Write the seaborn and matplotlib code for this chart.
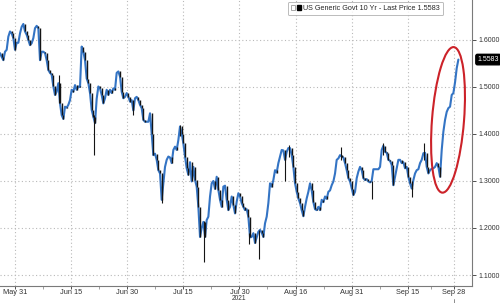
import numpy as np
import pandas as pd
import matplotlib
matplotlib.use("Agg")
import matplotlib.pyplot as plt
import seaborn as sns
from matplotlib.patches import Ellipse, Patch
from matplotlib.legend_handler import HandlerTuple

# ---------------- data ----------------
closes = [
    1.572, 1.564, 1.557, 1.575, 1.579, 1.607, 1.618, 1.614, 1.604, 1.579,
    1.594, 1.594, 1.614, 1.628, 1.634, 1.618, 1.611, 1.600, 1.589, 1.593,
    1.604, 1.625, 1.630, 1.625, 1.557, 1.575, 1.575, 1.572, 1.557, 1.536,
    1.530, 1.526, 1.501, 1.483, 1.490, 1.508, 1.465, 1.440, 1.432, 1.458,
    1.456, 1.462, 1.472, 1.494, 1.490, 1.504, 1.494, 1.501,
    1.500, 1.586, 1.575, 1.557, 1.518, 1.508, 1.487, 1.451, 1.437, 1.423,
    1.475, 1.501, 1.497, 1.483, 1.465, 1.476, 1.494, 1.483, 1.494, 1.487,
    1.497, 1.494, 1.530, 1.533, 1.522, 1.490, 1.476, 1.479, 1.487, 1.479,
    1.469, 1.472, 1.450, 1.476, 1.479, 1.472, 1.462, 1.455, 1.430, 1.426,
    1.426, 1.426, 1.444, 1.401, 1.355, 1.358, 1.345, 1.323,
    1.316, 1.260, 1.295, 1.330, 1.345, 1.352, 1.350, 1.338, 1.366, 1.373,
    1.366, 1.387, 1.416, 1.401, 1.380, 1.352, 1.327, 1.313, 1.340, 1.299,
    1.330, 1.302, 1.288, 1.245, 1.181, 1.200, 1.213, 1.181, 1.217, 1.224,
    1.267, 1.295, 1.300, 1.283, 1.309, 1.281, 1.260, 1.245, 1.288, 1.290,
    1.260, 1.238, 1.245, 1.267, 1.249, 1.231, 1.256, 1.274,
    1.267, 1.253, 1.245, 1.238, 1.240, 1.224, 1.180, 1.181, 1.189, 1.168,
    1.180, 1.192, 1.196, 1.190, 1.181, 1.210, 1.224, 1.253, 1.295, 1.288,
    1.302, 1.323, 1.318, 1.338, 1.352, 1.366, 1.365, 1.345, 1.362, 1.370,
    1.370, 1.355, 1.330, 1.295, 1.277, 1.263, 1.253, 1.238, 1.225, 1.245,
    1.263, 1.277, 1.295, 1.280, 1.255, 1.240, 1.238, 1.245,
    1.238, 1.260, 1.255, 1.267, 1.262, 1.277, 1.280, 1.291, 1.299, 1.316,
    1.345, 1.348, 1.355, 1.352, 1.350, 1.338, 1.323, 1.306, 1.299, 1.284,
    1.270, 1.277, 1.306, 1.320, 1.330, 1.323, 1.306, 1.302, 1.304, 1.299,
    1.297, 1.300, 1.325, 1.325, 1.325, 1.325, 1.330, 1.366, 1.375, 1.362,
    1.360, 1.345, 1.343, 1.334, 1.291, 1.309, 1.327, 1.345,
    1.345, 1.338, 1.340, 1.327, 1.330, 1.309, 1.295, 1.284, 1.302, 1.316,
    1.323, 1.325, 1.338, 1.345, 1.359, 1.360, 1.330, 1.316, 1.323, 1.326,
    1.327, 1.330, 1.338, 1.330, 1.309, 1.366, 1.405, 1.430, 1.447, 1.455,
    1.458, 1.483, 1.487, 1.510, 1.540, 1.5583,
]
bar_start = -2.94      # business days relative to May 31
bar_step = 0.3268      # bar length in business days

wick_day = [8.69, 15.49, 23.07, 28.76, 32.35, 37.12, 45.94, 47.90,
            52.94, 53.80, 63.92, 69.94, 72.10, 77.78, 80.26]
wick_low = [1.465, 1.355, 1.440, 1.253, 1.395, 1.128, 1.165, 1.135,
            1.300, 1.350, 1.345, 1.262, 1.355, 1.265, 1.345]
wick_high = [1.526, 1.440, 1.470, 1.300, 1.419, 1.215, 1.190, 1.195,
             1.350, 1.377, 1.373, 1.300, 1.380, 1.300, 1.380]

tick_days = [0, 11, 22, 33, 44, 55, 66, 77, 86]
tick_labels = ["May 31", "Jun 15", "Jun 30", "Jul 15", "Jul 30",
               "Aug 16", "Aug 31", "Sep 15", "Sep 28"]
year_label = "2021"
year_day = 44
y_ticks = [1.1, 1.2, 1.3, 1.4, 1.5, 1.6]
last_price = 1.5583
series_label = "US Generic Govt 10 Yr - Last Price 1.5583"
highlight_day, highlight_val = 84.9, 1.430

# ---------------- plot ----------------
sns.set_theme(style="white")
plt.rcParams["font.family"] = ["Liberation Sans", "DejaVu Sans"]

days = bar_start + bar_step * np.arange(len(closes))
df = pd.DataFrame({"day": days, "yield": closes})

fig = plt.figure(figsize=(5, 3.03), dpi=100)
ax = fig.add_axes([0, 17 / 303, 472 / 500, 286 / 303])

blue = "#3474c4"
dark = "#141414"
sns.lineplot(data=df, x="day", y="yield", ax=ax, color=blue, lw=1.5,
             estimator=None, sort=False, zorder=3)

prev = np.array(closes[:-1])
cur = np.array(closes[1:])
down = cur < prev
ax.vlines(days[1:][down], cur[down], prev[down], color=dark, lw=1.0, zorder=4)
ax.vlines(wick_day, wick_low, wick_high, color=dark, lw=0.8, zorder=4)

ax.set_xlim(-2.94, 89.6)
ax.set_ylim(1.0766, 1.685)

ax.set_xticks(tick_days)
ax.set_xticklabels(tick_labels)
minor = [(a + b) / 2 for a, b in zip(tick_days[:-1], tick_days[1:])]
ax.set_xticks(minor, minor=True)
ax.set_yticks(y_ticks)
ax.yaxis.set_major_formatter(matplotlib.ticker.FormatStrFormatter("%.4f"))
ax.yaxis.tick_right()
ax.set_xlabel("")
ax.set_ylabel("")

ax.grid(True, which="major", ls=(0, (1, 2.2)), color="#b9b9b9", lw=0.8)
for s in ["left", "top"]:
    ax.spines[s].set_visible(False)
for s in ["right", "bottom"]:
    ax.spines[s].set_color("#7a7a7a")
    ax.spines[s].set_linewidth(0.8)

ax.tick_params(axis="x", which="major", labelsize=5.3, colors="#333333",
               length=2, width=0.6, pad=0.5, direction="out", bottom=True)
ax.tick_params(axis="x", which="minor", length=2, width=0.5,
               color="#7a7a7a", bottom=True)
ax.tick_params(axis="y", which="major", labelsize=5, colors="#333333",
               length=3, width=0.6, pad=2, right=True, left=False)

# year label sits below the date labels, at the bottom edge of the figure
yx, _ = fig.transFigure.inverted().transform(ax.transData.transform((year_day, 1.1)))
fig.text(yx, 0.002, year_label, ha="center", va="bottom", fontsize=4.8,
         color="#333333")
ax.plot([86, 86], [-0.045, -0.07], transform=ax.get_xaxis_transform(),
        color="#7a7a7a", lw=0.6, clip_on=False)

ax.annotate(f"{last_price:.4f}", xy=(1, last_price),
            xycoords=ax.get_yaxis_transform(), xytext=(4, 0),
            textcoords="offset points", ha="left", va="center",
            fontsize=5, color="white", zorder=10,
            bbox=dict(boxstyle="round,pad=0.25", fc="black", ec="black"))

handles = [(Patch(fc="white", ec="#999999", lw=0.6),
            Patch(fc="black", ec="black"))]
leg = ax.legend(handles, [series_label],
                handler_map={tuple: HandlerTuple(ndivide=None, pad=0.2)},
                loc="upper right", bbox_to_anchor=(447 / 472, 1.0 + 2 / 286),
                fontsize=5.2, frameon=True, fancybox=True,
                handlelength=1.3, handleheight=0.8, borderpad=0.45,
                handletextpad=0.4)
leg.get_frame().set_edgecolor("#aaaaaa")
leg.get_frame().set_linewidth(0.7)

cx, cy = ax.transData.transform((highlight_day, highlight_val))
ell = Ellipse((cx / fig.dpi, cy / fig.dpi), width=0.32, height=1.46,
              angle=-4.5, transform=fig.dpi_scale_trans, fill=False,
              ec="#cc2229", lw=1.5, zorder=6)
ax.add_patch(ell)

fig.savefig("out.png", dpi=100)
